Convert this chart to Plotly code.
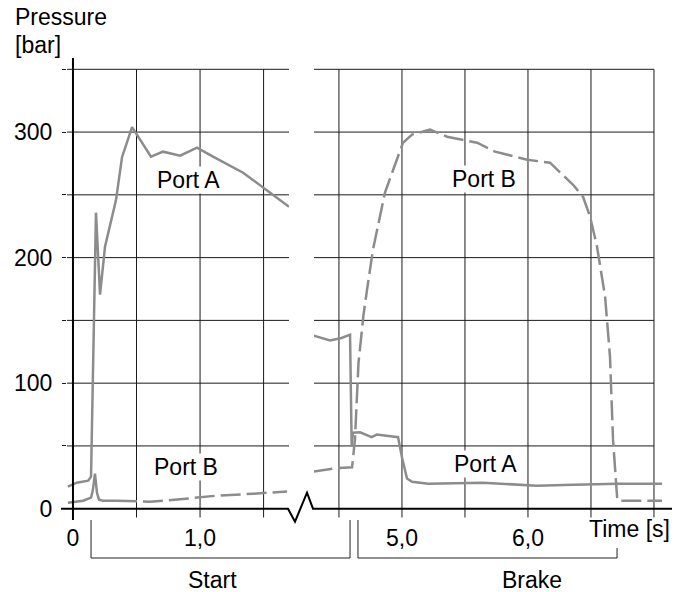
import plotly.graph_objects as go

# ---- values ----
# start phase (left panel), time in s, pressure in bar
start_t_a = [-0.04, 0.03, 0.12, 0.142, 0.181, 0.213, 0.252, 0.339, 0.386, 0.465,
             0.614, 0.709, 0.843, 0.976, 1.102, 1.339, 1.70]
start_p_a = [17.5, 20.7, 22.3, 25.5, 235.8, 170.5, 208.7, 246.0, 280.0, 304.0,
             280.4, 284.4, 281.2, 287.6, 280.4, 267.6, 240.5]
start_t_b = [-0.04, 0.08, 0.142, 0.157, 0.173, 0.189, 0.205, 0.236, 0.346,
             0.606, 0.866, 1.134, 1.417, 1.685]
start_p_b = [4.8, 6.4, 8.8, 15.0, 28.0, 12.7, 7.2, 6.4, 6.4,
             5.6, 7.7, 10.4, 11.9, 13.8]

# brake phase (right panel)
brake_t_a = [4.30, 4.43, 4.52, 4.588, 4.601, 4.611, 4.667, 4.707, 4.76, 4.80,
             4.879, 4.969, 5.0, 5.04, 5.08, 5.21, 5.64, 6.07, 6.36, 6.71, 7.064]
brake_p_a = [137.8, 134.0, 136.0, 138.6, 49.6, 60.5, 60.8, 59.0, 57.0, 59.0,
             58.0, 57.0, 41.0, 24.0, 21.5, 19.9, 20.7, 18.3, 19.0, 19.9, 19.9]
brake_t_b = [4.29, 4.50, 4.604, 4.627, 4.655, 4.695, 4.723, 4.770, 4.865, 4.929,
             5.008, 5.080, 5.223, 5.358, 5.596, 5.739, 5.993, 6.175, 6.358, 6.437,
             6.493, 6.548, 6.612, 6.651, 6.675, 6.707, 6.715, 7.064]
brake_p_b = [29.5, 32.5, 33.0, 55.0, 116.0, 154.5, 174.5, 206.3, 251.7, 270.0,
             291.5, 298.0, 302.0, 296.3, 291.5, 284.4, 278.0, 275.6, 258.0, 248.5,
             232.6, 208.7, 168.9, 121.0, 55.0, 9.6, 6.4, 6.4]

grid_y = [50, 100, 150, 200, 250, 300, 350]
grid_x_start = [0.5, 1.0, 1.5]
grid_x_brake = [4.5, 5.0, 5.5, 6.0, 6.5, 7.0]

y_tickvals = [0, 50, 100, 150, 200, 250, 300, 350]
y_ticktext = ["0", "", "100", "", "200", "", "300", ""]
x_tickvals_start = [0, 1.0]
x_ticktext_start = ["0", "1,0"]
x_tickvals_brake = [5.0, 6.0]
x_ticktext_brake = ["5,0", "6,0"]

# phase brackets below the time axis: (label, t_from, t_to)
phase_start = ("Start", 0.142, 4.588)
phase_brake = ("Brake", 4.651, 6.707)

# ---- geometry ----
W, H = 688, 592
L, R, T, B = 67, 672, 58, 520
X1 = [-0.047, 1.70]
X2 = [4.302, 7.143]
Y = [-9, 359]
dom1 = [0, (289 - L) / (R - L)]
dom2 = [(314 - L) / (R - L), 1]

GRAY = "#8c8c8c"
FONT = "Liberation Sans, Arial, Helvetica, sans-serif"


def px_x(px):
    return (px - L) / (R - L)


def px_y(py):
    return (B - py) / (B - T)


def t_paper(t, rng, dom):
    return dom[0] + (t - rng[0]) / (rng[1] - rng[0]) * (dom[1] - dom[0])


def y_paper(v):
    return (v - Y[0]) / (Y[1] - Y[0])


fig = go.Figure()

line_a = dict(color=GRAY, width=2.5)
line_b = dict(color=GRAY, width=2.5, dash="20px,6px")

fig.add_trace(go.Scatter(x=start_t_a, y=start_p_a, mode="lines", line=line_a,
                         name="Port A", xaxis="x", yaxis="y"))
fig.add_trace(go.Scatter(x=start_t_b[:9], y=start_p_b[:9], mode="lines",
                         line=line_a, name="Port B", xaxis="x", yaxis="y"))
fig.add_trace(go.Scatter(x=start_t_b[8:], y=start_p_b[8:], mode="lines",
                         line=line_b, name="Port B", xaxis="x", yaxis="y"))
fig.add_trace(go.Scatter(x=brake_t_a, y=brake_p_a, mode="lines", line=line_a,
                         name="Port A", xaxis="x2", yaxis="y"))
fig.add_trace(go.Scatter(x=brake_t_b, y=brake_p_b, mode="lines", line=line_b,
                         name="Port B", xaxis="x2", yaxis="y"))

shapes = []
grid = dict(color="#1a1a1a", width=1)
for g in grid_y:
    shapes.append(dict(type="line", xref="x", yref="y", x0=X1[0], x1=X1[1],
                       y0=g, y1=g, line=grid, layer="below"))
    shapes.append(dict(type="line", xref="x2", yref="y", x0=X2[0], x1=grid_x_brake[-1],
                       y0=g, y1=g, line=grid, layer="below"))
for g in grid_x_start:
    shapes.append(dict(type="line", xref="x", yref="y", x0=g, x1=g,
                       y0=-7, y1=grid_y[-1], line=grid, layer="below"))
for g in grid_x_brake:
    shapes.append(dict(type="line", xref="x2", yref="y", x0=g, x1=g,
                       y0=-7, y1=grid_y[-1], line=grid, layer="below"))

# pressure axis
shapes.append(dict(type="line", xref="x", yref="y", x0=0, x1=0, y0=Y[0], y1=Y[1],
                   line=dict(color="black", width=2)))

# time axis with break symbol
y0 = y_paper(0)
ph = B - T
path = (f"M {px_x(61)},{y0} L {px_x(288)},{y0} L {px_x(295)},{y0 - 13 / ph} "
        f"L {px_x(307)},{y0 + 16 / ph} L {px_x(313)},{y0} L 1,{y0}")
shapes.append(dict(type="path", xref="paper", yref="paper", path=path,
                   line=dict(color="black", width=2)))

# phase brackets
yb = -38 / ph
xs = t_paper(phase_start[1], X1, dom1)
xe = t_paper(phase_start[2], X2, dom2)
shapes.append(dict(type="path", xref="paper", yref="paper",
                   path=f"M {xs},0 L {xs},{yb} L {xe},{yb} L {xe},0",
                   line=dict(color="#222", width=1)))
xs = t_paper(phase_brake[1], X2, dom2)
xe = t_paper(phase_brake[2], X2, dom2)
shapes.append(dict(type="path", xref="paper", yref="paper",
                   path=f"M {xs},0 L {xs},{yb} L {xe},{yb} L {xe},{yb + 10 / ph}",
                   line=dict(color="#222", width=1)))

txt = dict(family=FONT, size=23, color="black")
label = dict(showarrow=False, bgcolor="white", borderpad=0, font=txt,
             xanchor="center", yanchor="middle")
free = dict(showarrow=False, font=txt, xref="paper", yref="paper",
            xanchor="center", yanchor="middle")
annotations = [
    dict(text="Port A", x=0.906, y=262, xref="x", yref="y", **label),
    dict(text="Port B", x=0.89, y=33, xref="x", yref="y", **label),
    dict(text="Port B", x=5.655, y=263, xref="x2", yref="y", **label),
    dict(text="Port A", x=5.663, y=36, xref="x2", yref="y", **label),
    dict(text="Pressure", x=px_x(13), y=px_y(17), **{**free, "xanchor": "left"}),
    dict(text="[bar]", x=px_x(13), y=px_y(45), **{**free, "xanchor": "left"}),
    dict(text="Time [s]", x=1, y=px_y(529), **{**free, "xanchor": "right"}),
    dict(text=phase_start[0], x=px_x(212), y=px_y(580), **free),
    dict(text=phase_brake[0], x=px_x(532), y=px_y(580), **free),
]

xcommon = dict(showgrid=False, zeroline=False, showline=False, ticks="",
               anchor="y", tickfont=txt, ticklabelstandoff=2)

fig.update_layout(
    width=W, height=H,
    margin=dict(l=L, r=W - R, t=T, b=H - B, pad=0),
    paper_bgcolor="white", plot_bgcolor="white",
    showlegend=False,
    font=txt,
    xaxis=dict(domain=dom1, range=X1, tickvals=x_tickvals_start,
               ticktext=x_ticktext_start, **xcommon),
    xaxis2=dict(domain=dom2, range=X2, tickvals=x_tickvals_brake,
                ticktext=x_ticktext_brake, **xcommon),
    yaxis=dict(range=Y, tickvals=y_tickvals, ticktext=y_ticktext,
               showgrid=False, zeroline=False, showline=False,
               ticks="outside", ticklen=4, tickwidth=1, tickcolor="#1a1a1a",
               ticklabelstandoff=5, tickfont=txt, anchor="x"),
    shapes=shapes,
    annotations=annotations,
)

# the page body has a default margin; drop it so the figure sits at the corner
fig.write_html("out.html", config={"displayModeBar": False},
               post_script="document.body.style.margin = '0';")
